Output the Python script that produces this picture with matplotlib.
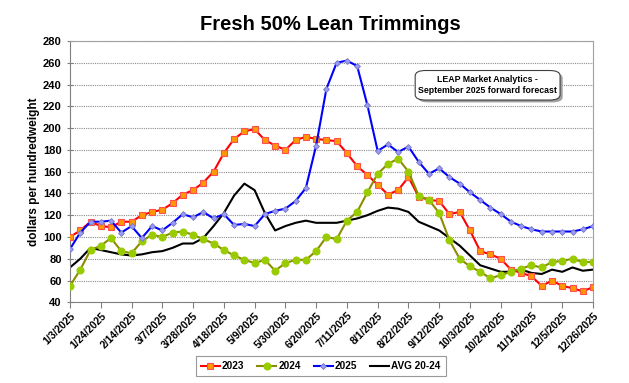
import matplotlib
matplotlib.use("Agg")
import matplotlib.pyplot as plt
from matplotlib.patches import FancyBboxPatch

# weekly prices, 1/3/2025 .. 12/26/2025 (52 weeks)
weeks = list(range(52))
tick_labels = ['1/3/2025', '1/24/2025', '2/14/2025', '3/7/2025', '3/28/2025', '4/18/2025',
               '5/9/2025', '5/30/2025', '6/20/2025', '7/11/2025', '8/1/2025', '8/22/2025',
               '9/12/2025', '10/3/2025', '10/24/2025', '11/14/2025', '12/5/2025', '12/26/2025']

y2023 = [100, 106, 114, 110, 109, 114, 114, 120, 123, 125, 131, 139, 143, 150,
         160, 177, 190, 197, 199, 189, 184, 180, 189, 192, 190, 189, 188,
         177, 165, 157, 148, 139, 143, 155, 137, 134, 133, 121, 123, 106,
         87, 84, 80, 70, 67, 64, 55, 60, 55, 53, 50, 54]
y2024 = [55, 70, 88, 92, 99, 87, 85, 96, 102, 100, 104, 105, 102, 98,
         94, 88, 83, 79, 76, 79, 69, 76, 79, 79, 87, 100, 98,
         115, 123, 141, 158, 167, 172, 160, 138, 134, 122, 97, 80, 73,
         68, 62, 65, 68, 71, 74, 72, 77, 78, 80, 77, 77]
y2025 = [89, 104, 114, 114, 115, 104, 110, 99, 110, 106, 113, 121, 118, 123,
         117, 121, 111, 112, 110, 121, 124, 126, 133, 145, 184, 236, 260,
         262, 257, 221, 179, 185, 178, 183, 169, 158, 163, 155, 149, 141,
         134, 127, 121, 114, 110, 107, 105, 105, 105, 105, 107, 110]
avg_20_24 = [72, 80, 90, 88, 86, 84, 83, 84, 86, 87, 90, 94, 94, 99,
             110, 122, 138, 149, 143, 122, 106, 110, 113, 115, 113, 113, 113,
             115, 117, 120, 124, 127, 126, 123, 114, 110, 106, 99, 92, 83,
             74, 71, 68, 68, 70, 67, 66, 70, 68, 72, 69, 70]

plt.rcParams['font.family'] = ['Liberation Sans', 'DejaVu Sans']
plt.rcParams['font.weight'] = 'bold'

fig = plt.figure(figsize=(6.29, 3.83), dpi=100)
ax = fig.add_axes([0.1113, 0.2107, 0.8315, 0.6823])

ax.plot(weeks, y2023, color='#FF0000', lw=1.5, marker='s', ms=4.8,
        mfc='#FF9900', mec='#FF5050', mew=0.8, label='2023', zorder=3)
ax.plot(weeks, y2024, color='#8C8C00', lw=1.5, marker='o', ms=4.8,
        mfc='#99CC00', mec='#99CC00', label='2024', zorder=3)
ax.plot(weeks, y2025, color='#0000FF', lw=1.5, marker='D', ms=3.0,
        mfc='#9999FF', mec='#7777BB', mew=0.6, label='2025', zorder=4)
ax.plot(weeks, avg_20_24, color='black', lw=1.5, label='AVG 20-24', zorder=2)

ax.set_xlim(0, 51)
ax.set_ylim(40, 280)
ax.set_yticks(range(40, 281, 20))
ax.set_xticks(weeks[::3])
ax.set_xticklabels(tick_labels, rotation=45, ha='right', rotation_mode='anchor',
                   fontsize=7.5, fontweight='bold')
ax.tick_params(axis='y', labelsize=8, length=5, direction='inout', color='#808080')
ax.tick_params(axis='x', length=4, direction='out', pad=2, color='#808080')
for lab in ax.get_yticklabels():
    lab.set_fontweight('bold')

ax.yaxis.grid(True, color='#8C8C8C', linestyle=(0, (1, 1)), lw=0.8)
ax.set_axisbelow(True)
for s in ['top', 'right']:
    ax.spines[s].set_color('#A0A0A0')
for s in ['left', 'bottom']:
    ax.spines[s].set_color('#808080')

ax.set_ylabel('dollars per hundredweight', fontsize=8.5, fontweight='bold', labelpad=2)
fig.text(0.526, 1 - 30 / 383, 'Fresh 50% Lean Trimmings', ha='center', va='baseline',
         fontsize=14.5, fontweight='bold')

# note box with a drop shadow
bx0, by0, bw, bh = 0.660, 0.774, 0.277, 0.113
ax.add_patch(FancyBboxPatch((bx0 + 0.005, by0 - 0.009), bw, bh,
                            boxstyle='round,pad=0,rounding_size=0.02',
                            transform=ax.transAxes, fc='#A0A0A0', ec='none', zorder=5))
ax.add_patch(FancyBboxPatch((bx0, by0), bw, bh,
                            boxstyle='round,pad=0,rounding_size=0.02',
                            transform=ax.transAxes, fc='white', ec='#404040', lw=0.8, zorder=6))
ax.text(bx0 + bw / 2, by0 + bh / 2, 'LEAP Market Analytics -\nSeptember 2025 forward forecast',
        transform=ax.transAxes, ha='center', va='center', fontsize=6.3,
        fontweight='bold', linespacing=1.3, zorder=7)

leg = fig.legend(loc='center', bbox_to_anchor=(0.51, 0.044), ncol=4, fontsize=7.2,
                 frameon=True, fancybox=False, edgecolor='#808080', handlelength=1.9,
                 columnspacing=1.3, handletextpad=0.2, borderpad=0.5)
leg.get_frame().set_linewidth(0.8)
for t in leg.get_texts():
    t.set_fontweight('bold')

fig.savefig('out.png', dpi=100)
